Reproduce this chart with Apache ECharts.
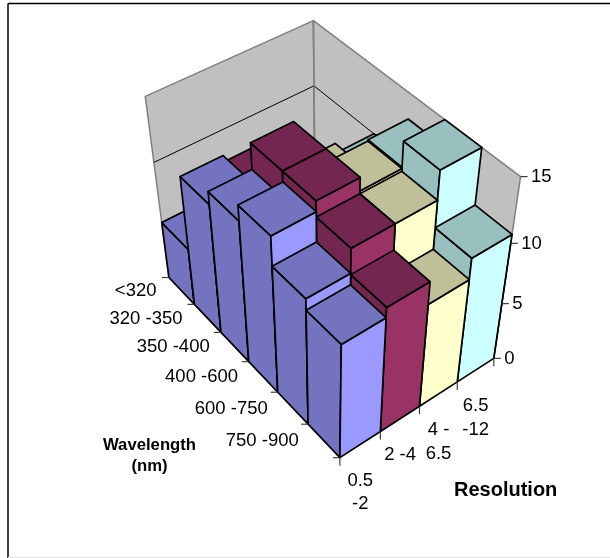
<!DOCTYPE html>
<html><head><meta charset="utf-8">
<style>html,body{margin:0;padding:0;background:#fff}#c{width:610px;height:558px}</style>
<script src="https://cdn.jsdelivr.net/npm/echarts@6/dist/echarts.min.js"></script>
</head><body><div id="c"></div>
<script>
const wavelengths = ['<320','320 -350','350 -400','400 -600','600 -750','750 -900'];
const resolutions = ['0.5\n-2','2 -4','4 -\n6.5','6.5\n-12'];
const valueTicks = [0,5,10,15];
const res0 = [5, 11, 12, 13.2, 10.9, 10];
const res1 = [4, 10.5, 14, 14, 12.8, 10.8];
const res2 = [3, 4, 10.8, 13, 12.8, 9];
const res3 = [2, 5, 10, 13.1, 15, 10.7];
const seriesValues = [res0,res1,res2,res3];
const lightColors = ['#9999FF','#993366','#FFFFCC','#CCFFFF'];
const darkColors = ['#7373BF','#732650','#BFBF99','#99BFBF'];

// camera calibration: [u (wavelength), v (resolution), z (value share)] -> picture
const calib = [
 [0,0,0,168,277],[1,0,0,340,458],[1,1,0,493,358],[0,1,0,316,201],
 [0,0,1,145,97],[0,1,1,313,20],[1,1,1,520,177],[0,0,2/3,155,162],[0,1,2/3,313.5,86],[1,1,2/3,512,243]
];
function solve(A,b){const n=b.length;const M=A.map((r,i)=>r.concat(b[i]));
 for(let i=0;i<n;i++){let p=i;for(let k=i+1;k<n;k++)if(Math.abs(M[k][i])>Math.abs(M[p][i]))p=k;
  [M[i],M[p]]=[M[p],M[i]];
  for(let k=0;k<n;k++){if(k===i)continue;const f=M[k][i]/M[i][i];for(let j=i;j<=n;j++)M[k][j]-=f*M[i][j];}}
 return M.map((r,i)=>r[n]/r[i]);}
const P=(function(){const rows=[],rhs=[];
 calib.forEach(([u,v,z,x,y])=>{
  rows.push([u,v,z,1,0,0,0,0,-x*u,-x*v,-x*z]);rhs.push(x);
  rows.push([0,0,0,0,u,v,z,1,-y*u,-y*v,-y*z]);rhs.push(y);});
 const n=11,A=[],b=[];
 for(let i=0;i<n;i++){A.push([]);let s=0;for(let j=0;j<n;j++){let t=0;rows.forEach(r=>t+=r[i]*r[j]);A[i].push(t);}
  rows.forEach((r,k)=>s+=r[i]*rhs[k]);b.push(s);}
 return solve(A,b);})();
function proj(u,v,z){const w=P[8]*u+P[9]*v+P[10]*z+1;
 return [(P[0]*u+P[1]*v+P[2]*z+P[3])/w,(P[4]*u+P[5]*v+P[6]*z+P[7])/w];}

const INK='#000',EDGE='#808080',WALL='#C0C0C0',TEXT='#000';
const FONT='"Liberation Sans",Arial,sans-serif';
const poly=(pts,fill,stroke,lw)=>({type:'polygon',shape:{points:pts},style:{fill:fill,stroke:stroke,lineWidth:lw,lineJoin:'round'}});
const line=(a,b,stroke,lw)=>({type:'line',shape:{x1:a[0],y1:a[1],x2:b[0],y2:b[1]},style:{stroke:stroke,lineWidth:lw}});
const txt=(t,x,y,align,vb,font,lh)=>({type:'text',style:{text:t,x:x,y:y,align:align,verticalAlign:vb,font:font,fill:TEXT,lineHeight:lh}});

function renderFrame(params,api){
 if(params.dataIndex!==0)return {type:'group',children:[]};
 const c=[];
 const zm=valueTicks[valueTicks.length-1];
 c.push(poly([proj(0,0,0),proj(0,0,1),proj(0,1,1),proj(0,1,0)],WALL,EDGE,1.5));
 c.push(poly([proj(0,1,0),proj(0,1,1),proj(1,1,1),proj(1,1,0)],WALL,EDGE,1.5));
 valueTicks.forEach((t,i)=>{ if(i===0||i===valueTicks.length-1)return;const z=t/zm;
  c.push(line(proj(0,0,z),proj(0,1,z),INK,1));c.push(line(proj(0,1,z),proj(1,1,z),INK,1));});
 c.push(line(proj(0,1,0),proj(0,1,1),EDGE,1.5));
 return {type:'group',children:c};
}
function renderAxes(params,api){
 if(params.dataIndex!==0)return {type:'group',children:[]};
 const c=[];
 const nw=wavelengths.length,nr=resolutions.length,zm=valueTicks[valueTicks.length-1];
 c.push(line(proj(1,1,0),proj(1,1,2/3),INK,1.3));
 valueTicks.forEach(t=>{const p=proj(1,1,t/zm);
  c.push(line(p,[p[0]+7,p[1]],'#404040',1.2));
  c.push(txt(String(t),p[0]+10.5,p[1]+0.5,'left','middle','18.5px '+FONT,20));});
 for(let i=0;i<=nw;i++){const p=proj(i/nw,0,0);c.push(line(p,[p[0]-7,p[1]],'#404040',1.2));}
 wavelengths.forEach((w,i)=>{const p=proj((i+.5)/nw,0,0);
  c.push(txt(w,p[0]-25,p[1]+0.5,'right','middle','18.5px '+FONT,20));});
 for(let i=0;i<=nr;i++){const p=proj(1,i/nr,0);c.push(line(p,[p[0],p[1]+8],'#404040',1.2));}
 resolutions.forEach((r,i)=>{const p=proj(1,(i+.5)/nr,0);
  c.push(txt(r,p[0],p[1]+24.5,'center','top','18.5px '+FONT,23.5));});
 c.push(txt('Wavelength\n(nm)',149.5,434.5,'center','top','bold 16.7px '+FONT,21));
 c.push(txt('Resolution',454,490,'left','middle','bold 20px '+FONT,24));
 return {type:'group',children:c};
}
function renderBar(r){return function(params,api){
 const i=api.value(0),val=api.value(1),cs=params.coordSys;
 const base=api.coord([i,0]),top=api.coord([i,val]),band=api.size([1,0])[0];
 const u0=(base[0]-band/2-cs.x)/cs.width,u1=u0+band/cs.width;
 const z=(base[1]-top[1])/cs.height,nr=seriesValues.length,v0=r/nr,v1=(r+1)/nr;
 const S=INK,W=1.7;
 return {type:'group',children:[
  poly([proj(u0,v0,0),proj(u1,v0,0),proj(u1,v0,z),proj(u0,v0,z)],darkColors[r],S,W),
  poly([proj(u1,v0,0),proj(u1,v1,0),proj(u1,v1,z),proj(u1,v0,z)],lightColors[r],S,W),
  poly([proj(u0,v0,z),proj(u1,v0,z),proj(u1,v1,z),proj(u0,v1,z)],darkColors[r],S,W)
 ]};
};}
const series=[{type:'custom',name:'walls',data:[[0,0]],z:1,renderItem:renderFrame,silent:true}];
for(let r=seriesValues.length-1;r>=0;r--){
 series.push({type:'custom',name:resolutions[r].replace('\n',' '),z:10+(seriesValues.length-r),silent:true,
  renderItem:renderBar(r),encode:{x:0,y:1},
  data:seriesValues[r].map((v,i)=>[i,v])});
}
series.push({type:'custom',name:'axes',data:[[0,0]],z:30,renderItem:renderAxes,silent:true});
const chart=echarts.init(document.getElementById('c'),null,{renderer:'canvas'});
chart.setOption({
 animation:false,backgroundColor:'#fff',
 grid:{left:0,right:0,top:0,bottom:0},
 xAxis:{type:'category',data:wavelengths,show:false},
 yAxis:{type:'value',min:0,max:15,interval:5,show:false},
 graphic:[
  {type:'line',shape:{x1:8,y1:3.5,x2:610,y2:3.5},style:{stroke:'#000',lineWidth:1.5},z:0},
  {type:'line',shape:{x1:8,y1:3.5,x2:8,y2:558},style:{stroke:'#000',lineWidth:1.5},z:0},
  {type:'line',shape:{x1:8,y1:557.5,x2:610,y2:557.5},style:{stroke:'#e6e6e6',lineWidth:1},z:0}
 ],
 series:series
});
</script></body></html>
